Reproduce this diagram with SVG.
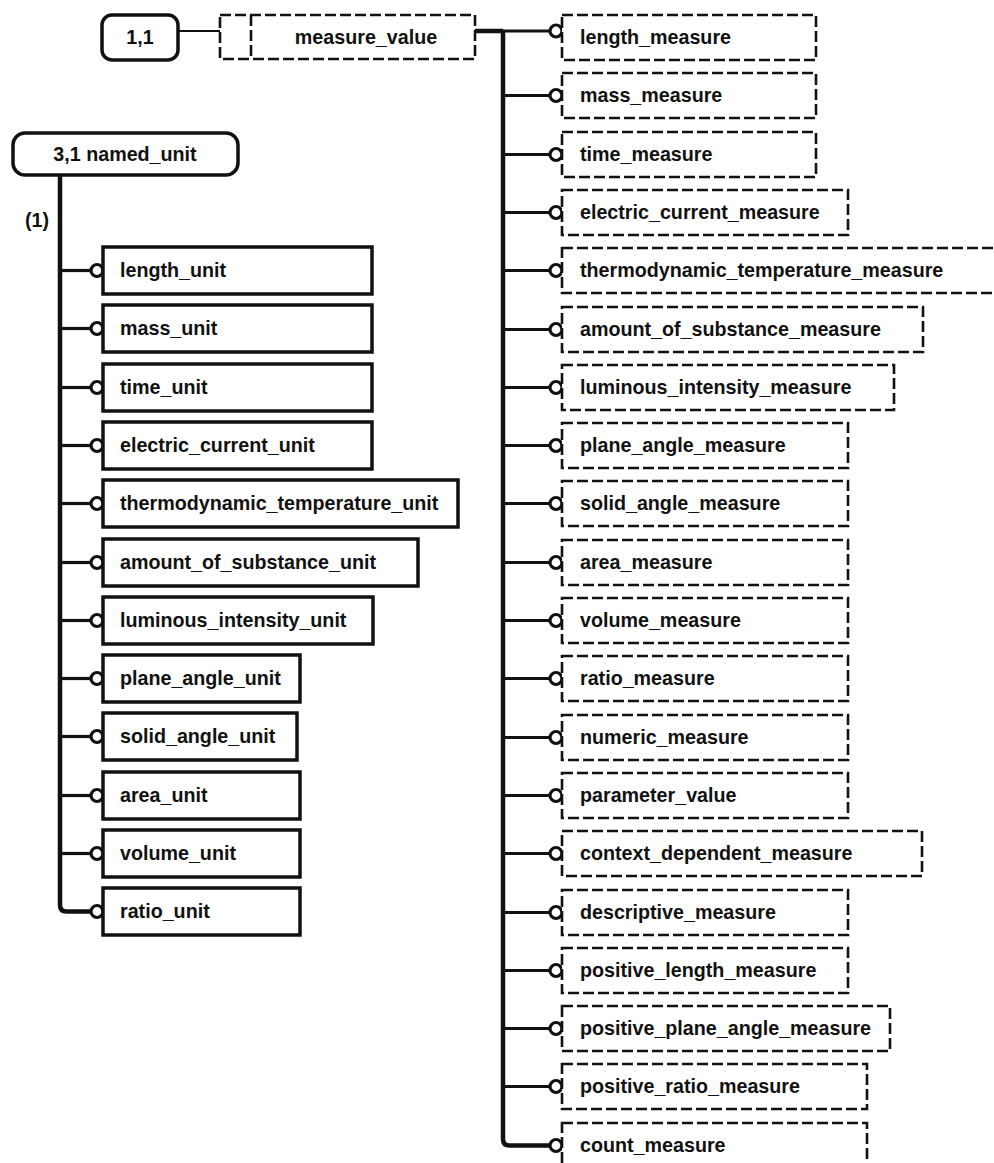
<svg xmlns="http://www.w3.org/2000/svg" width="994" height="1163" viewBox="0 0 994 1163">
<style>
text{font-family:"Liberation Sans",Arial,sans-serif;font-weight:bold;font-size:19.7px;fill:#111}
.solid{fill:#fff;stroke:#111;stroke-width:3.5}
.dash{fill:#fff;stroke:#111;stroke-width:2.6;stroke-dasharray:11 4}
.round{fill:#fff;stroke:#111;stroke-width:3.5}
.con{fill:none;stroke:#111;stroke-width:3.2}
.trunk{fill:none;stroke:#111;stroke-width:4.5}
.thin{fill:none;stroke:#111;stroke-width:2}
.circ{fill:#fff;stroke:#111;stroke-width:3.2}
</style>
<rect width="994" height="1163" fill="#fff"/>
<g id="connectors">
<line class="thin" x1="178" y1="31" x2="220" y2="31"/>
<line class="trunk" x1="475" y1="31" x2="503" y2="31"/>
<path class="trunk" d="M503 31 V1139 Q503 1145.5 509.5 1145.5 H550"/>
<path class="trunk" d="M60 175 V905 Q60 911.5 66.5 911.5 H91"/>
<g id="right-branches">
<line class="con" x1="503" y1="31" x2="550" y2="31"/>
<line class="con" x1="503" y1="95.5" x2="550" y2="95.5"/>
<line class="con" x1="503" y1="154.5" x2="550" y2="154.5"/>
<line class="con" x1="503" y1="212.5" x2="550" y2="212.5"/>
<line class="con" x1="503" y1="270.5" x2="550" y2="270.5"/>
<line class="con" x1="503" y1="329.5" x2="550" y2="329.5"/>
<line class="con" x1="503" y1="387.5" x2="550" y2="387.5"/>
<line class="con" x1="503" y1="445.5" x2="550" y2="445.5"/>
<line class="con" x1="503" y1="503.5" x2="550" y2="503.5"/>
<line class="con" x1="503" y1="562.5" x2="550" y2="562.5"/>
<line class="con" x1="503" y1="620.5" x2="550" y2="620.5"/>
<line class="con" x1="503" y1="678.5" x2="550" y2="678.5"/>
<line class="con" x1="503" y1="737.5" x2="550" y2="737.5"/>
<line class="con" x1="503" y1="795.5" x2="550" y2="795.5"/>
<line class="con" x1="503" y1="853.5" x2="550" y2="853.5"/>
<line class="con" x1="503" y1="912.5" x2="550" y2="912.5"/>
<line class="con" x1="503" y1="970.5" x2="550" y2="970.5"/>
<line class="con" x1="503" y1="1028.5" x2="550" y2="1028.5"/>
<line class="con" x1="503" y1="1086.5" x2="550" y2="1086.5"/>
</g>
<g id="left-branches">
<line class="con" x1="60" y1="270.5" x2="91" y2="270.5"/>
<line class="con" x1="60" y1="328.5" x2="91" y2="328.5"/>
<line class="con" x1="60" y1="387.5" x2="91" y2="387.5"/>
<line class="con" x1="60" y1="445.5" x2="91" y2="445.5"/>
<line class="con" x1="60" y1="503.5" x2="91" y2="503.5"/>
<line class="con" x1="60" y1="562.5" x2="91" y2="562.5"/>
<line class="con" x1="60" y1="620.5" x2="91" y2="620.5"/>
<line class="con" x1="60" y1="678.5" x2="91" y2="678.5"/>
<line class="con" x1="60" y1="736.5" x2="91" y2="736.5"/>
<line class="con" x1="60" y1="795.5" x2="91" y2="795.5"/>
<line class="con" x1="60" y1="853.5" x2="91" y2="853.5"/>
</g>
<g id="right-circles">
<circle class="circ" cx="556" cy="31" r="6"/>
<circle class="circ" cx="556" cy="95.5" r="6"/>
<circle class="circ" cx="556" cy="154.5" r="6"/>
<circle class="circ" cx="556" cy="212.5" r="6"/>
<circle class="circ" cx="556" cy="270.5" r="6"/>
<circle class="circ" cx="556" cy="329.5" r="6"/>
<circle class="circ" cx="556" cy="387.5" r="6"/>
<circle class="circ" cx="556" cy="445.5" r="6"/>
<circle class="circ" cx="556" cy="503.5" r="6"/>
<circle class="circ" cx="556" cy="562.5" r="6"/>
<circle class="circ" cx="556" cy="620.5" r="6"/>
<circle class="circ" cx="556" cy="678.5" r="6"/>
<circle class="circ" cx="556" cy="737.5" r="6"/>
<circle class="circ" cx="556" cy="795.5" r="6"/>
<circle class="circ" cx="556" cy="853.5" r="6"/>
<circle class="circ" cx="556" cy="912.5" r="6"/>
<circle class="circ" cx="556" cy="970.5" r="6"/>
<circle class="circ" cx="556" cy="1028.5" r="6"/>
<circle class="circ" cx="556" cy="1086.5" r="6"/>
<circle class="circ" cx="556" cy="1145.5" r="6"/>
</g>
<g id="left-circles">
<circle class="circ" cx="97" cy="270.5" r="6"/>
<circle class="circ" cx="97" cy="328.5" r="6"/>
<circle class="circ" cx="97" cy="387.5" r="6"/>
<circle class="circ" cx="97" cy="445.5" r="6"/>
<circle class="circ" cx="97" cy="503.5" r="6"/>
<circle class="circ" cx="97" cy="562.5" r="6"/>
<circle class="circ" cx="97" cy="620.5" r="6"/>
<circle class="circ" cx="97" cy="678.5" r="6"/>
<circle class="circ" cx="97" cy="736.5" r="6"/>
<circle class="circ" cx="97" cy="795.5" r="6"/>
<circle class="circ" cx="97" cy="853.5" r="6"/>
<circle class="circ" cx="97" cy="911.5" r="6"/>
</g>
<text x="37" y="227" text-anchor="middle">(1)</text>
</g>
<g id="n_1_1"><rect class="round" x="102" y="15" width="76" height="45" rx="10"/><text x="140" y="44" text-anchor="middle">1,1</text></g>
<g id="measure_value"><rect class="dash" x="220" y="15" width="255" height="44"/><line class="dash" x1="251" y1="15" x2="251" y2="59"/><text x="366" y="44" text-anchor="middle">measure_value</text></g>
<g id="named_unit"><rect class="round" x="13" y="133" width="225" height="42" rx="12"/><text x="125" y="161" text-anchor="middle">3,1 named_unit</text></g>
<g id="length_measure"><rect class="dash" x="562" y="15" width="254" height="45"/><text x="580" y="44">length_measure</text></g>
<g id="mass_measure"><rect class="dash" x="562" y="73" width="254" height="45"/><text x="580" y="102">mass_measure</text></g>
<g id="time_measure"><rect class="dash" x="562" y="132" width="254" height="45"/><text x="580" y="161">time_measure</text></g>
<g id="electric_current_measure"><rect class="dash" x="562" y="190" width="286" height="45"/><text x="580" y="219">electric_current_measure</text></g>
<g id="thermodynamic_temperature_measure"><rect class="dash" x="562" y="248" width="440" height="45"/><text x="580" y="277">thermodynamic_temperature_measure</text></g>
<g id="amount_of_substance_measure"><rect class="dash" x="562" y="307" width="361" height="45"/><text x="580" y="336">amount_of_substance_measure</text></g>
<g id="luminous_intensity_measure"><rect class="dash" x="562" y="365" width="332" height="45"/><text x="580" y="394">luminous_intensity_measure</text></g>
<g id="plane_angle_measure"><rect class="dash" x="562" y="423" width="286" height="45"/><text x="580" y="452">plane_angle_measure</text></g>
<g id="solid_angle_measure"><rect class="dash" x="562" y="481" width="286" height="45"/><text x="580" y="510">solid_angle_measure</text></g>
<g id="area_measure"><rect class="dash" x="562" y="540" width="286" height="45"/><text x="580" y="569">area_measure</text></g>
<g id="volume_measure"><rect class="dash" x="562" y="598" width="286" height="45"/><text x="580" y="627">volume_measure</text></g>
<g id="ratio_measure"><rect class="dash" x="562" y="656" width="286" height="45"/><text x="580" y="685">ratio_measure</text></g>
<g id="numeric_measure"><rect class="dash" x="562" y="715" width="286" height="45"/><text x="580" y="744">numeric_measure</text></g>
<g id="parameter_value"><rect class="dash" x="562" y="773" width="286" height="45"/><text x="580" y="802">parameter_value</text></g>
<g id="context_dependent_measure"><rect class="dash" x="562" y="831" width="360" height="45"/><text x="580" y="860">context_dependent_measure</text></g>
<g id="descriptive_measure"><rect class="dash" x="562" y="890" width="286" height="45"/><text x="580" y="919">descriptive_measure</text></g>
<g id="positive_length_measure"><rect class="dash" x="562" y="948" width="286" height="45"/><text x="580" y="977">positive_length_measure</text></g>
<g id="positive_plane_angle_measure"><rect class="dash" x="562" y="1006" width="328" height="45"/><text x="580" y="1035">positive_plane_angle_measure</text></g>
<g id="positive_ratio_measure"><rect class="dash" x="562" y="1064" width="305" height="45"/><text x="580" y="1093">positive_ratio_measure</text></g>
<g id="count_measure"><rect class="dash" x="562" y="1123" width="305" height="45"/><text x="580" y="1152">count_measure</text></g>
<g id="length_unit"><rect class="solid" x="103" y="247" width="269" height="47"/><text x="120" y="277">length_unit</text></g>
<g id="mass_unit"><rect class="solid" x="103" y="305" width="269" height="47"/><text x="120" y="335">mass_unit</text></g>
<g id="time_unit"><rect class="solid" x="103" y="364" width="269" height="47"/><text x="120" y="394">time_unit</text></g>
<g id="electric_current_unit"><rect class="solid" x="103" y="422" width="269" height="47"/><text x="120" y="452">electric_current_unit</text></g>
<g id="thermodynamic_temperature_unit"><rect class="solid" x="103" y="480" width="355" height="47"/><text x="120" y="510">thermodynamic_temperature_unit</text></g>
<g id="amount_of_substance_unit"><rect class="solid" x="103" y="539" width="315" height="47"/><text x="120" y="569">amount_of_substance_unit</text></g>
<g id="luminous_intensity_unit"><rect class="solid" x="103" y="597" width="270" height="47"/><text x="120" y="627">luminous_intensity_unit</text></g>
<g id="plane_angle_unit"><rect class="solid" x="103" y="655" width="197" height="47"/><text x="120" y="685">plane_angle_unit</text></g>
<g id="solid_angle_unit"><rect class="solid" x="103" y="713" width="194" height="47"/><text x="120" y="743">solid_angle_unit</text></g>
<g id="area_unit"><rect class="solid" x="103" y="772" width="197" height="47"/><text x="120" y="802">area_unit</text></g>
<g id="volume_unit"><rect class="solid" x="103" y="830" width="197" height="47"/><text x="120" y="860">volume_unit</text></g>
<g id="ratio_unit"><rect class="solid" x="103" y="888" width="197" height="47"/><text x="120" y="918">ratio_unit</text></g>
</svg>
